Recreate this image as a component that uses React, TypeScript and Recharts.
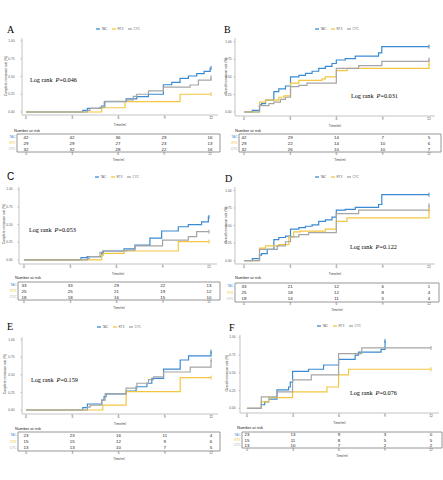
import React from 'react';
import { LineChart, Line, XAxis, YAxis, ScatterChart, Scatter, ReferenceArea } from 'recharts';

// ---------- data ----------
const GROUPS = ['TAC', 'RTX', 'CYC'];
const COLORS = ['#3a8bd1', '#f3c641', '#a5a5a5'];
const TIME_TICKS = [0, 3, 6, 9, 12];
const Y_TICKS = [0, 0.25, 0.5, 0.75, 1];
const ROW_TICKS = [0.5, 1.5, 2.5];
const LETTERS = ['A', 'B', 'C', 'D', 'E', 'F'];
const Y_LABELS = [
  'Complete remission rate (%)', 'Overall remission rate (%)',
  'Complete remission rate (%)', 'Overall remission rate (%)',
  'Complete remission rate (%)', 'Overall remission rate (%)',
];
const P_VALUES = ['0.046', '0.031', '0.053', '0.122', '0.159', '0.076'];

type P = [number, number];
const A_TAC: P[] = [[0, 0], [3.68, 0.024], [3.98, 0.052], [4.91, 0.085], [5.08, 0.147], [6.49, 0.185], [7.18, 0.218], [7.94, 0.25], [8.91, 0.384], [9.45, 0.417], [9.99, 0.474], [10.53, 0.507], [11.07, 0.54], [11.55, 0.573], [11.94, 0.62], [12, 0.62]];
const A_RTX: P[] = [[0, 0], [4.91, 0.06], [6.42, 0.147], [9.99, 0.25], [12, 0.25]];
const A_CYC: P[] = [[0, 0], [3.98, 0.024], [4.15, 0.052], [4.8, 0.07], [5.12, 0.15], [6.53, 0.17], [6.96, 0.22], [7.18, 0.25], [7.94, 0.297], [8.91, 0.35], [10.64, 0.38], [11.18, 0.45], [12, 0.49]];

const B_TAC: P[] = [[0, 0], [0.54, 0.024], [1.01, 0.1], [1.14, 0.12], [1.4, 0.17], [1.94, 0.29], [2.26, 0.33], [2.69, 0.37], [3.02, 0.5], [3.56, 0.52], [3.99, 0.55], [4.42, 0.58], [4.85, 0.62], [5.28, 0.65], [5.71, 0.69], [5.99, 0.74], [6.57, 0.76], [7.22, 0.795], [8.73, 0.84], [8.94, 0.93], [12, 0.93]];
const B_RTX: P[] = [[0, 0], [1.01, 0.14], [1.4, 0.17], [2.26, 0.21], [2.59, 0.23], [3.02, 0.41], [3.56, 0.45], [5.06, 0.47], [5.28, 0.5], [5.99, 0.59], [6.7, 0.62], [12, 0.69]];
const B_CYC: P[] = [[0, 0], [1.01, 0.09], [1.62, 0.12], [1.94, 0.14], [2.37, 0.18], [2.69, 0.21], [3.02, 0.36], [3.56, 0.38], [4.09, 0.41], [5.99, 0.62], [7.44, 0.66], [8.94, 0.72], [12, 0.75]];

const C_TAC: P[] = [[0, 0], [3.7, 0.033], [4.1, 0.047], [5.04, 0.094], [5.15, 0.127], [6.49, 0.156], [7.2, 0.21], [8.17, 0.31], [8.93, 0.41], [10.01, 0.47], [10.66, 0.5], [11.52, 0.54], [11.96, 0.61], [12, 0.61]];
const C_RTX: P[] = [[0, 0], [5.04, 0.07], [5.15, 0.094], [6.49, 0.127], [10.01, 0.26], [12, 0.26]];
const C_CYC: P[] = [[0, 0], [4.11, 0.02], [4.24, 0.047], [4.93, 0.108], [5.1, 0.127], [6.66, 0.14], [7.2, 0.2], [8.99, 0.28], [10.66, 0.33], [11.2, 0.4], [12, 0.4]];

const D_TAC: P[] = [[0, 0], [0.54, 0.03], [1.01, 0.08], [1.14, 0.1], [1.51, 0.16], [1.94, 0.3], [2.26, 0.33], [2.69, 0.35], [3.02, 0.45], [3.56, 0.47], [3.99, 0.49], [4.42, 0.51], [4.85, 0.56], [5.28, 0.58], [5.71, 0.62], [5.99, 0.72], [6.57, 0.73], [7.22, 0.76], [8.73, 0.8], [8.94, 0.94], [12, 0.94]];
const D_RTX: P[] = [[0, 0], [1.01, 0.18], [1.4, 0.21], [2.26, 0.23], [2.91, 0.34], [3.23, 0.41], [3.66, 0.42], [5.28, 0.45], [5.99, 0.56], [6.68, 0.61], [12, 0.72]];
const D_CYC: P[] = [[0, 0], [1.01, 0.16], [2.16, 0.21], [2.69, 0.27], [3.02, 0.34], [3.56, 0.37], [4.2, 0.4], [5.99, 0.67], [7.44, 0.72], [12, 0.79]];

const E_TAC: P[] = [[0, 0], [3.68, 0.033], [3.98, 0.085], [4.91, 0.14], [5.06, 0.19], [5.19, 0.23], [6.49, 0.27], [7.14, 0.33], [7.84, 0.38], [8.16, 0.45], [8.92, 0.58], [10.0, 0.71], [10.54, 0.77], [12, 0.83]];
const E_RTX: P[] = [[0, 0], [4.98, 0.07], [6.49, 0.26], [10.0, 0.46], [12, 0.46]];
const E_CYC: P[] = [[0, 0], [3.98, 0.04], [4.16, 0.07], [4.91, 0.14], [5.13, 0.23], [6.49, 0.31], [7.19, 0.38], [7.94, 0.43], [8.27, 0.47], [8.92, 0.54], [10.65, 0.61], [12, 0.71]];

const F_TAC: P[] = [[0, 0], [0.93, 0.05], [1.15, 0.09], [1.41, 0.13], [1.95, 0.26], [2.71, 0.3], [2.82, 0.37], [2.97, 0.52], [4.01, 0.55], [4.99, 0.61], [5.97, 0.69], [7.05, 0.75], [7.27, 0.79], [8.74, 0.83], [9.0, 0.95]];
const F_RTX: P[] = [[0, 0], [0.93, 0.09], [1.41, 0.15], [2.97, 0.23], [5.21, 0.3], [5.97, 0.47], [6.62, 0.55], [12, 0.55]];
const F_CYC: P[] = [[0, 0], [0.93, 0.16], [1.95, 0.23], [2.97, 0.4], [4.19, 0.47], [5.97, 0.77], [7.48, 0.85], [12, 0.85]];

const A_RISK = [[42, 42, 36, 29, 16], [29, 29, 27, 23, 13], [32, 32, 28, 22, 16]];
const B_RISK = [[42, 29, 14, 7, 5], [29, 22, 14, 10, 6], [32, 26, 10, 10, 7]];
const C_RISK = [[33, 33, 29, 22, 13], [25, 25, 21, 19, 12], [18, 18, 16, 15, 10]];
const D_RISK = [[33, 21, 12, 6, 1], [25, 18, 12, 8, 4], [18, 14, 11, 5, 4]];
const E_RISK = [[23, 23, 16, 11, 4], [15, 15, 12, 9, 6], [13, 13, 10, 7, 5]];
const F_RISK = [[23, 13, 9, 3, 0], [15, 11, 8, 5, 5], [13, 10, 7, 2, 2]];

const SERIES = [
  [A_TAC, A_RTX, A_CYC], [B_TAC, B_RTX, B_CYC], [C_TAC, C_RTX, C_CYC],
  [D_TAC, D_RTX, D_CYC], [E_TAC, E_RTX, E_CYC], [F_TAC, F_RTX, F_CYC],
];
const RISKS = [A_RISK, B_RISK, C_RISK, D_RISK, E_RISK, F_RISK];

// ---------- layout ----------
type Box = { L: number; R: number; T: number; B: number };
type Lay = {
  ox: number; letter: [number, number]; legend: [number, number]; ylabel: [number, number];
  plot: Box; xDom: [number, number]; yDom: [number, number]; gap: number;
  logrank: [number, number]; nar: [number, number]; table: Box; tDom: [number, number]; serifLetter: boolean;
};
const LAYOUT: Lay[] = [
  { ox: 0, letter: [7, 33], legend: [96, 29], ylabel: [6, 76], plot: { L: 22, R: 218, T: 38, B: 115 }, xDom: [-0.26, 12.45], yDom: [-0.042, 1.042], gap: 6, logrank: [30, 82], nar: [14, 132], table: { L: 17, R: 220, T: 134, B: 152 }, tDom: [-0.59, 12.65], serifLetter: true },
  { ox: 222, letter: [224, 33], legend: [315, 29], ylabel: [226, 76], plot: { L: 235, R: 435, T: 38, B: 116 }, xDom: [-0.58, 12.39], yDom: [-0.057, 1.053], gap: 2, logrank: [351, 98], nar: [235, 132], table: { L: 239, R: 441, T: 134, B: 152 }, tDom: [-0.32, 12.78], serifLetter: true },
  { ox: 0, letter: [7, 180], legend: [95, 177], ylabel: [4, 224], plot: { L: 19, R: 217, T: 187, B: 264 }, xDom: [-0.32, 12.52], yDom: [-0.057, 1.033], gap: 5, logrank: [29, 232], nar: [15, 279], table: { L: 18, R: 220, T: 282, B: 300 }, tDom: [-0.39, 12.71], serifLetter: false },
  { ox: 222, letter: [225, 182], legend: [315, 177], ylabel: [226, 225], plot: { L: 235, R: 435, T: 187, B: 264 }, xDom: [-0.58, 12.39], yDom: [-0.047, 1.049], gap: 2, logrank: [350, 249], nar: [235, 279], table: { L: 235, R: 439, T: 283, B: 302 }, tDom: [-0.58, 12.65], serifLetter: true },
  { ox: 0, letter: [7, 330], legend: [97, 327], ylabel: [5, 374], plot: { L: 22, R: 218, T: 337, B: 414 }, xDom: [-0.26, 12.45], yDom: [-0.057, 1.037], gap: 6, logrank: [31, 382], nar: [15, 430], table: { L: 18, R: 220, T: 432, B: 451 }, tDom: [-0.52, 12.58], serifLetter: true },
  { ox: 222, letter: [229, 331], legend: [317, 326], ylabel: [227, 373], plot: { L: 240, R: 439, T: 335, B: 413 }, xDom: [-0.46, 12.52], yDom: [-0.066, 1.032], gap: 3, logrank: [350, 395], nar: [237, 429], table: { L: 242, R: 442, T: 432, B: 448 }, tDom: [-0.33, 12.72], serifLetter: true },
];

const AXIS_COLOR = '#b4b4b4';
const TICK_FONT = 'Arial, "Liberation Sans", sans-serif';

function KMChart({ lay, series }: { lay: Lay; series: P[][] }) {
  const yw = lay.plot.L - lay.ox;
  const xh = 11;
  const W = lay.plot.R - lay.ox + 2;
  const H = lay.plot.B - lay.plot.T + 2 + xh;
  return (
    <div style={{ position: 'absolute', left: lay.ox, top: lay.plot.T - 2 }}>
      <LineChart width={W} height={H} margin={{ top: 2, right: 2, left: 0, bottom: 0 }}>
        <XAxis
          type="number" dataKey="x" domain={lay.xDom} ticks={TIME_TICKS} allowDataOverflow interval={0}
          height={xh} stroke={AXIS_COLOR} strokeWidth={0.8} tickSize={1.5} tickMargin={0.5}
          tick={{ fontSize: 3.4, fill: '#555', fontFamily: TICK_FONT }}
          label={{ value: 'Time(m)', position: 'insideBottom', offset: 0, fontSize: 3.4, fill: '#444', fontFamily: TICK_FONT }}
        />
        <YAxis
          type="number" dataKey="y" domain={lay.yDom} ticks={Y_TICKS} allowDataOverflow interval={0}
          width={yw} stroke={AXIS_COLOR} strokeWidth={0.8} tickSize={1.5} tickMargin={lay.gap}
          tickFormatter={(v: number) => v.toFixed(2)}
          tick={{ fontSize: 3.2, fill: '#555', fontFamily: TICK_FONT }}
        />
        {series.map((s, i) => {
          const data = s.map(([x, y]) => ({ x, y }));
          const last = data.length - 1;
          return (
            <Line
              key={GROUPS[i]} data={data} dataKey="y" type="stepAfter" stroke={COLORS[i]}
              strokeWidth={1.2} isAnimationActive={false}
              dot={(p: any) =>
                p.index === last ? (
                  <line key={`d${i}`} x1={p.cx} x2={p.cx} y1={p.cy - 2} y2={p.cy + 2} stroke={COLORS[i]} strokeWidth={1} />
                ) : (
                  <g key={`d${i}-${p.index}`} />
                )
              }
            />
          );
        })}
      </LineChart>
    </div>
  );
}

function RowTick(props: any) {
  const { x, y, payload } = props;
  const idx = Math.round(2.5 - payload.value);
  return (
    <text x={x} y={y} dy="0.35em" textAnchor="end" fontSize={3.2} fill={COLORS[idx]} fontFamily={TICK_FONT}>
      {GROUPS[idx]}
    </text>
  );
}

function RiskTable({ lay, risk }: { lay: Lay; risk: number[][] }) {
  const yw = lay.table.L - lay.ox;
  const xh = 8.5;
  const W = lay.table.R - lay.ox + 1;
  const H = lay.table.B - lay.table.T + 1 + xh;
  return (
    <div style={{ position: 'absolute', left: lay.ox, top: lay.table.T - 1 }}>
      <ScatterChart width={W} height={H} margin={{ top: 1, right: 1, left: 0, bottom: 0 }}>
        <XAxis
          type="number" dataKey="x" domain={lay.tDom} ticks={TIME_TICKS} allowDataOverflow interval={0}
          height={xh} axisLine={false} tickLine={false} tickSize={0} tickMargin={1}
          tick={{ fontSize: 3.2, fill: '#555', fontFamily: TICK_FONT }}
          label={{ value: 'Time(m)', position: 'insideBottom', offset: 0, fontSize: 3.2, fill: '#444', fontFamily: TICK_FONT }}
        />
        <YAxis
          type="number" dataKey="y" domain={[0, 3]} ticks={ROW_TICKS} allowDataOverflow interval={0}
          width={yw} axisLine={false} tickLine={false} tickSize={0} tickMargin={1.5} tick={<RowTick />}
        />
        <ReferenceArea x1={lay.tDom[0]} x2={lay.tDom[1]} y1={0} y2={3} fill="none" stroke="#8a8a8a" strokeWidth={0.9} ifOverflow="visible" />
        {risk.map((row, i) => (
          <Scatter
            key={GROUPS[i]}
            data={TIME_TICKS.map((t, j) => ({ x: t, y: 2.5 - i, n: row[j] }))}
            isAnimationActive={false}
            shape={(p: any) => (
              <text x={p.cx} y={p.cy} dy="0.36em" textAnchor="middle" fontSize={4.4} fill="#222" fontFamily={TICK_FONT}>
                {p.payload.n}
              </text>
            )}
          />
        ))}
      </ScatterChart>
    </div>
  );
}

function Overlay() {
  return (
    <svg width={443} height={480} style={{ position: 'absolute', left: 0, top: 0, pointerEvents: 'none' }}>
      {LAYOUT.map((lay, k) => (
        <g key={k}>
          <text
            x={lay.letter[0]} y={lay.letter[1]} fontSize={10}
            fontFamily={lay.serifLetter ? '"Liberation Serif", "DejaVu Serif", serif' : 'Arial, "Liberation Sans", sans-serif'}
            fill="#000"
          >
            {LETTERS[k]}
          </text>
          {GROUPS.map((g, i) => (
            <g key={g}>
              <line x1={lay.legend[0] + i * 16} x2={lay.legend[0] + i * 16 + 4} y1={lay.legend[1]} y2={lay.legend[1]} stroke={COLORS[i]} strokeWidth={1.3} />
              <text x={lay.legend[0] + i * 16 + 5.5} y={lay.legend[1]} dy="0.35em" fontSize={3} fill="#666" fontFamily={TICK_FONT}>{g}</text>
            </g>
          ))}
          <text
            transform={`translate(${lay.ylabel[0]},${lay.ylabel[1]}) rotate(-90)`}
            textAnchor="middle" dy="0.35em" fontSize={3.2} fill="#333" fontFamily={TICK_FONT}
          >
            {Y_LABELS[k]}
          </text>
          <text x={lay.logrank[0]} y={lay.logrank[1]} fontSize={6.2} fill="#000" fontFamily='"Liberation Serif", "DejaVu Serif", serif'>
            Log rank{'\u00a0\u00a0'}<tspan fontStyle="italic">P</tspan>=0.{P_VALUES[k].slice(2)}
          </text>
          <text x={lay.nar[0]} y={lay.nar[1]} fontSize={4} fill="#222" fontFamily={TICK_FONT}>Number at risk</text>
        </g>
      ))}
    </svg>
  );
}

export default function App() {
  return (
    <div style={{ position: 'absolute', left: 0, top: 0, width: 443, height: 480, background: '#fff', overflow: 'hidden' }}>
      {LAYOUT.map((lay, k) => (
        <React.Fragment key={k}>
          <KMChart lay={lay} series={SERIES[k]} />
          <RiskTable lay={lay} risk={RISKS[k]} />
        </React.Fragment>
      ))}
      <Overlay />
    </div>
  );
}
